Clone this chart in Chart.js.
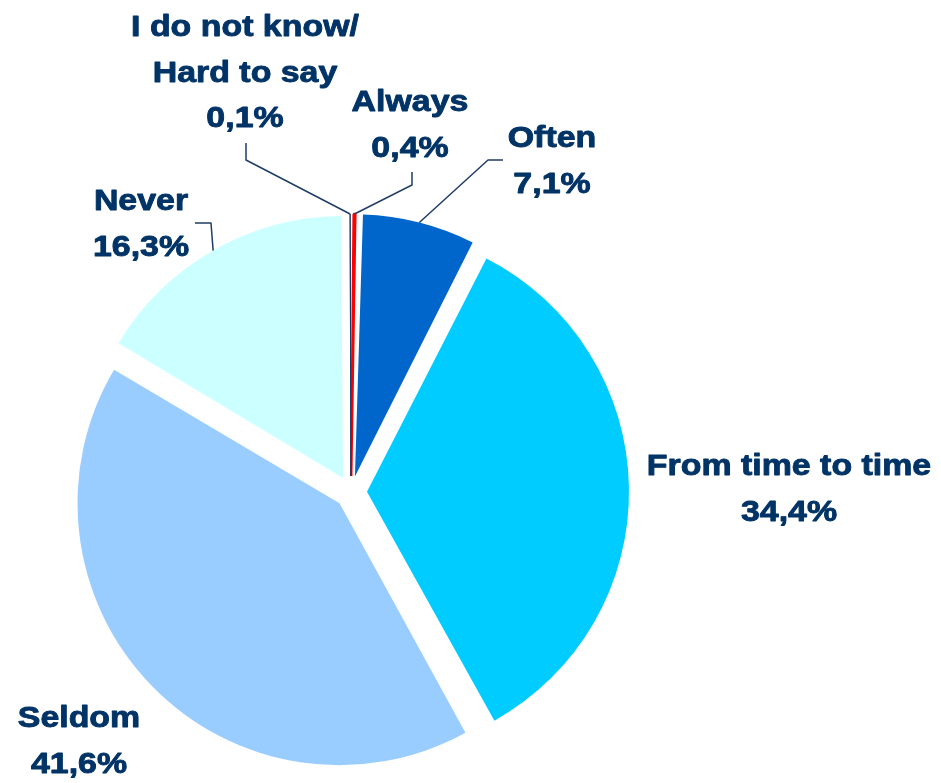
<!DOCTYPE html>
<html>
<head>
<meta charset="utf-8">
<script src="https://cdn.jsdelivr.net/npm/chart.js@4.4.1/dist/chart.umd.min.js"></script>
<style>
html,body{margin:0;padding:0;background:#fff}
#pie{display:block}
</style>
</head>
<body>
<canvas id="pie" width="941" height="783"></canvas>
<script>
// answers, clockwise from 12 o'clock
const categories=['Always','Often','From time to time','Seldom','Never','I do not know/\nHard to say'];
const shares=[0.4,7.1,34.4,41.6,16.3,0.1];
const sliceColors=['#ff0000','#0066cc','#00ccff','#99ccff','#ccffff','#1f3864'];

// label placement: centre x, baseline of first line
const labelAt=[[410,111],[552,147],[789,475],[79,727],[141,210],[245,36]];
// leader line points from the text towards the slice (slice end is added at draw time)
const leaders=[[[412,172],[412,185]],[[503,160],[488,160]],[],[],[[195,223],[211,223]],[[246,143],[246,160]]];

const R=262, EXPLODE=64;   // chart.js moves arcs by offset/4
const TXT='#003366', LINE='#1f3d66';

const fmt=v=>v.toFixed(1).replace('.',',')+'%';

// offset also grows the radius of some arcs; keep every slice the same size
const evenRadius={id:'evenRadius',afterDatasetUpdate(chart,args){
  args.meta.data.forEach(a=>{
    const fix=1-Math.sin(Math.min(Math.PI,a.circumference));
    a.outerRadius=R-EXPLODE/4*fix;
  });
}};

const sliceLabels={id:'sliceLabels',afterDraw(chart){
  const {ctx}=chart;
  const arcs=chart.getDatasetMeta(0).data;
  ctx.save();
  arcs.forEach((a,i)=>{
    const mid=(a.startAngle+a.endAngle)/2;
    const ax=a.x+Math.cos(mid)*(R+EXPLODE/4), ay=a.y+Math.sin(mid)*(R+EXPLODE/4);
    const pts=leaders[i];
    if(pts.length){
      ctx.strokeStyle=LINE;ctx.lineWidth=1.5;
      ctx.beginPath();ctx.moveTo(pts[0][0],pts[0][1]);
      pts.slice(1).forEach(p=>ctx.lineTo(p[0],p[1]));
      ctx.lineTo(ax,ay);ctx.stroke();
    }
    const lines=categories[i].split('\n').concat(fmt(shares[i]));
    const [lx,ly]=labelAt[i];
    ctx.fillStyle=TXT;ctx.strokeStyle=TXT;ctx.lineWidth=0.9;ctx.lineJoin='round';
    ctx.font='bold 30px "Liberation Sans", Arial, sans-serif';
    ctx.textAlign='center';ctx.textBaseline='alphabetic';
    lines.forEach((t,k)=>{
      ctx.save();ctx.translate(lx,ly+k*45.5);ctx.scale(1.13,1);
      ctx.fillText(t,0,0);ctx.strokeText(t,0,0);ctx.restore();
    });
  });
  ctx.restore();
}};

new Chart(document.getElementById('pie'),{
  type:'pie',
  data:{labels:categories,datasets:[{
    data:shares,backgroundColor:sliceColors,
    borderColor:sliceColors,borderWidth:[2.5,0,0,0,0,1],
    offset:EXPLODE
  }]},
  options:{
    responsive:false,animation:false,devicePixelRatio:1,
    radius:R,
    layout:{padding:{left:0,right:239,top:201,bottom:0}},
    plugins:{legend:{display:false},tooltip:{enabled:false}}
  },
  plugins:[evenRadius,sliceLabels]
});
</script>
</body>
</html>
